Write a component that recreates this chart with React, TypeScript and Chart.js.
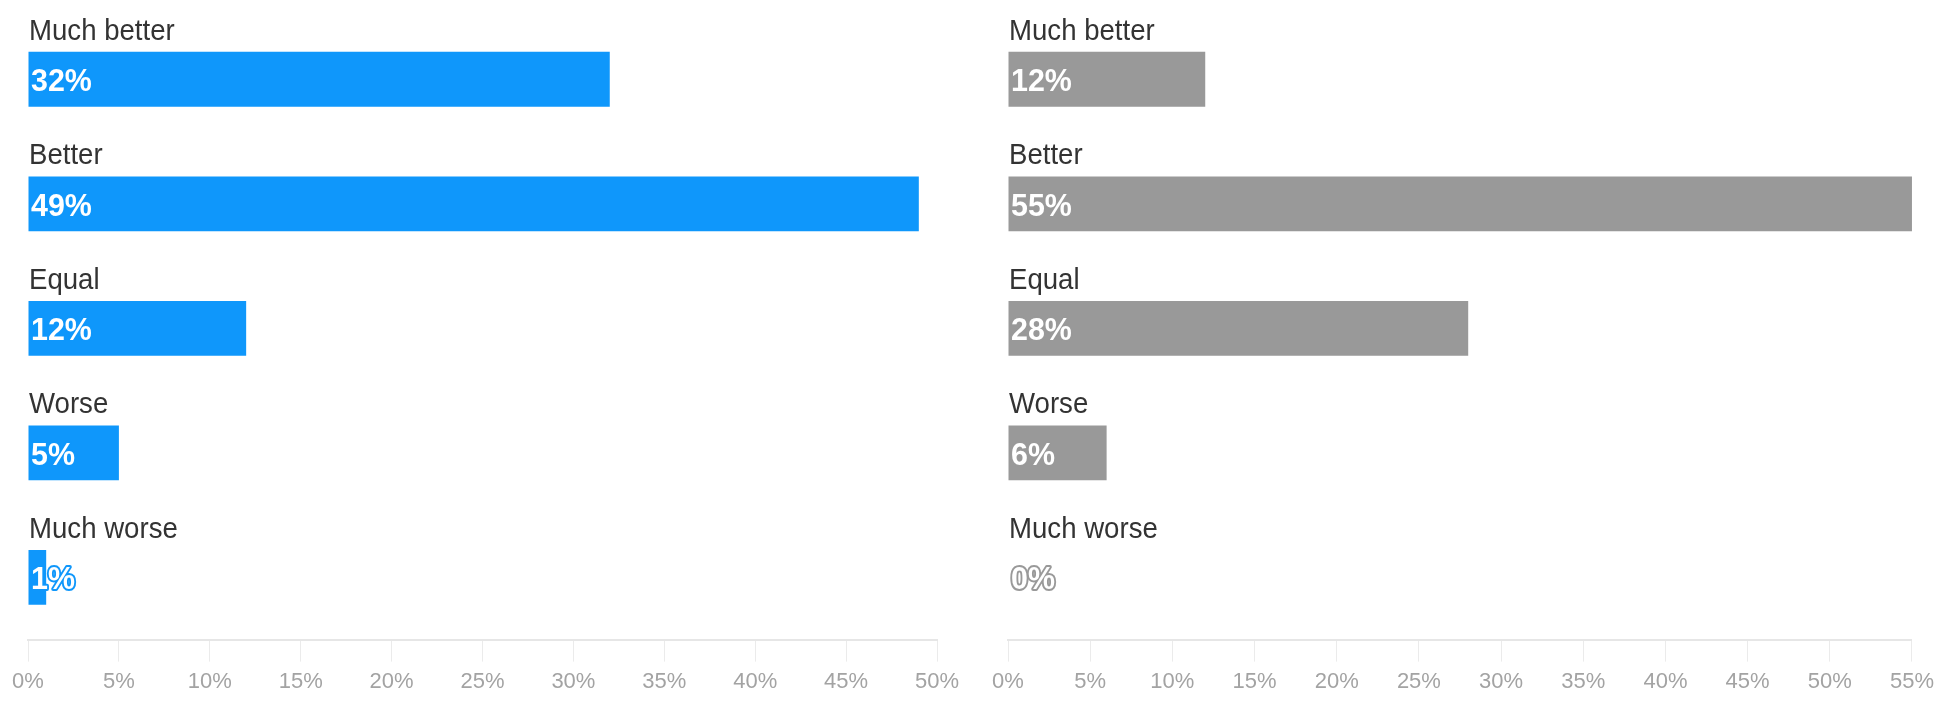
import React, { useEffect, useRef } from "react";
import { Chart, registerables } from "chart.js";

Chart.register(...registerables);

const categories = ["Much better", "Better", "Equal", "Worse", "Much worse"];
const leftValues = [32, 49, 12, 5, 1];
const rightValues = [12, 55, 28, 6, 0];
const leftMax = 50;
const rightMax = 55;
const tickStep = 5;

const BLUE = "#0f97fb";
const GREY = "#999999";
const FONT = "'Liberation Sans', Arial, sans-serif";

function condensedText(ctx: any, text: string, x: number, y: number, sx: number, stroke?: string) {
  ctx.save();
  ctx.translate(x, y);
  ctx.scale(sx, 1);
  if (stroke) {
    ctx.lineWidth = 4;
    ctx.lineJoin = "round";
    ctx.strokeStyle = stroke;
    ctx.strokeText(text, 0, 0);
  }
  ctx.fillText(text, 0, 0);
  ctx.restore();
}

const labelPlugin = {
  id: "barLabels",
  afterDatasetsDraw(chart: any) {
    const ctx = chart.ctx;
    const xs = chart.scales.x;
    const ys = chart.scales.y;
    const ds = chart.data.datasets[0];
    const x0 = xs.getPixelForValue(0);
    ctx.save();
    ctx.textAlign = "left";
    ctx.textBaseline = "middle";
    chart.data.labels.forEach((lab: string, i: number) => {
      const yc = ys.getPixelForValue(i);
      ctx.font = `30px ${FONT}`;
      ctx.fillStyle = "#333333";
      condensedText(ctx, lab, x0 + 1, yc - 48, 0.92);
      const t = ds.data[i] + "%";
      ctx.font = `bold 32px ${FONT}`;
      ctx.fillStyle = "#ffffff";
      condensedText(ctx, t, x0 + 3, yc + 3, 0.95, ds.backgroundColor);
    });
    ctx.restore();
  },
};

function makeConfig(values: number[], max: number, color: string, padLeft: number, padRight: number): any {
  return {
    type: "bar",
    data: {
      labels: categories,
      datasets: [
        {
          data: values,
          backgroundColor: color,
          borderWidth: 0,
          categoryPercentage: 1,
          barPercentage: 0.44,
        },
      ],
    },
    options: {
      indexAxis: "y",
      responsive: false,
      animation: false,
      layout: { padding: { left: padLeft, right: padRight, top: 17, bottom: 0 } },
      plugins: { legend: { display: false }, tooltip: { enabled: false }, title: { display: false } },
      scales: {
        x: {
          min: 0,
          max: max,
          ticks: {
            stepSize: tickStep,
            autoSkip: false,
            maxRotation: 0,
            padding: 7,
            color: "#a3a3a3",
            font: { family: FONT, size: 22 },
            callback: (v: any) => v + "%",
          },
          grid: { drawOnChartArea: false, drawTicks: true, tickLength: 22, color: "#ebebeb", lineWidth: 1 },
          border: { display: true, color: "#e6e6e6", width: 2 },
        },
        y: { display: false },
      },
    },
    plugins: [labelPlugin],
  };
}

export default function App() {
  const leftRef = useRef<HTMLCanvasElement>(null);
  const rightRef = useRef<HTMLCanvasElement>(null);
  useEffect(() => {
    const c1 = new Chart(leftRef.current!, makeConfig(leftValues, leftMax, BLUE, 28, 33));
    const c2 = new Chart(rightRef.current!, makeConfig(rightValues, rightMax, GREY, 38, 16));
    return () => {
      c1.destroy();
      c2.destroy();
    };
  }, []);
  return (
    <div style={{ position: "fixed", left: 0, top: 0, width: 1941, height: 702, background: "#fff" }}>
      <canvas ref={leftRef} width={970} height={702} style={{ position: "absolute", left: 0, top: 0 }} />
      <canvas ref={rightRef} width={971} height={702} style={{ position: "absolute", left: 970, top: 0 }} />
    </div>
  );
}
